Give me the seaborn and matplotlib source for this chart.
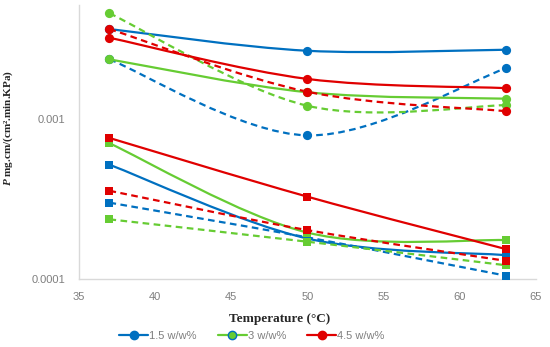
import numpy as np
import seaborn as sns
import matplotlib.pyplot as plt
from matplotlib.path import Path
from matplotlib.patches import PathPatch
from matplotlib.lines import Line2D

# temperatures (°C)
temps = [37, 50, 63]

# permeability, circle series
blue_circle_solid = [0.00365, 0.00267, 0.00271]
blue_circle_dash = [0.00236, 0.00079, 0.00207]
green_circle_solid = [0.00236, 0.00147, 0.00134]
green_circle_dash = [0.00458, 0.00121, 0.00122]
red_circle_solid = [0.00322, 0.00178, 0.00156]
red_circle_dash = [0.00365, 0.00148, 0.00112]

# permeability, square series
blue_square_solid = [0.000518, 0.000179, 0.000141]
blue_square_dash = [0.000300, 0.000182, 0.000105]
green_square_solid = [0.000705, 0.000195, 0.000175]
green_square_dash = [0.000236, 0.000171, 0.000122]
red_square_solid = [0.000761, 0.000327, 0.000154]
red_square_dash = [0.000356, 0.000202, 0.000130]

legend_labels = ["1.5 w/w%", "3 w/w%", "4.5 w/w%"]

BLUE = "#0070C0"
GREEN = "#66CC33"
RED = "#E00000"

sns.set_style("white")
plt.rcParams["font.family"] = ["Liberation Sans", "DejaVu Sans"]
plt.rcParams["mathtext.fontset"] = "custom"
plt.rcParams["mathtext.it"] = "Liberation Serif:italic:bold"
plt.rcParams["mathtext.rm"] = "Liberation Serif:bold"

fig = plt.figure(figsize=(5.5, 3.47), dpi=100)
ax = fig.add_axes([79 / 550, 1 - 279 / 347, 457 / 550, 274 / 347])


def smooth_line(x, y, color, dashed):
    # Excel-style smoothed line: cubic bezier through the points (x, log y)
    pts = np.column_stack([np.array(x, float), np.log10(y)])
    n = len(pts)
    verts = [pts[0]]
    codes = [Path.MOVETO]
    for i in range(n - 1):
        p0 = pts[max(i - 1, 0)]
        p1 = pts[i]
        p2 = pts[i + 1]
        p3 = pts[min(i + 2, n - 1)]
        c1 = p1 + (p2 - p0) / 6
        c2 = p2 - (p3 - p1) / 6
        verts += [c1, c2, p2]
        codes += [Path.CURVE4] * 3
    verts = np.array(verts)
    verts[:, 1] = 10 ** verts[:, 1]
    patch = PathPatch(Path(verts, codes), facecolor="none", edgecolor=color,
                      lw=1.6, linestyle=(0, (3, 2)) if dashed else "-",
                      capstyle="butt", zorder=2)
    ax.add_patch(patch)


series = [
    (blue_circle_solid, BLUE, False, "o"),
    (blue_circle_dash, BLUE, True, "o"),
    (green_circle_solid, GREEN, False, "o"),
    (green_circle_dash, GREEN, True, "o"),
    (red_circle_solid, RED, False, "o"),
    (red_circle_dash, RED, True, "o"),
    (blue_square_solid, BLUE, False, "s"),
    (blue_square_dash, BLUE, True, "s"),
    (green_square_solid, GREEN, False, "s"),
    (green_square_dash, GREEN, True, "s"),
    (red_square_solid, RED, False, "s"),
    (red_square_dash, RED, True, "s"),
]

for vals, col, dashed, mk in series:
    smooth_line(temps, vals, col, dashed)
    sns.scatterplot(x=temps, y=vals, color=col, marker=mk,
                    s=44 if mk == "o" else 36, linewidth=0, zorder=3, ax=ax)

ax.set_yscale("log")
ax.set_xlim(35, 65)
ax.set_ylim(1e-4, 0.00516)
ax.set_xticks([35, 40, 45, 50, 55, 60, 65])
ax.set_yticks([1e-4, 1e-3])
ax.set_yticklabels(["0.0001", "0.001"])
ax.yaxis.set_minor_locator(plt.NullLocator())
ax.tick_params(axis="both", length=0, labelsize=8, labelcolor="#7F7F7F")
ax.tick_params(axis="x", pad=9)
ax.tick_params(axis="y", pad=10)

for side in ["top", "right"]:
    ax.spines[side].set_visible(False)
for side in ["left", "bottom"]:
    ax.spines[side].set_color("#D9D9D9")
    ax.spines[side].set_linewidth(1.0)

ax.set_xlabel("Temperature (°C)", family="Liberation Serif", fontweight="bold",
              fontsize=9.5)
ax.xaxis.set_label_coords((280 - 79) / 457, -(313 - 279) / 274)
ax.set_ylabel("$\\it{P}$" + " mg.cm/(cm².min.KPa)", family="Liberation Serif",
              fontweight="bold", fontsize=8)
ax.yaxis.set_label_coords(-64 / 457, 0.55)

handles = [
    Line2D([], [], color=BLUE, lw=1.6, marker="o", markersize=6,
           markerfacecolor=BLUE, markeredgecolor=BLUE),
    Line2D([], [], color=GREEN, lw=1.6, marker="o", markersize=6,
           markerfacecolor=GREEN, markeredgecolor=BLUE),
    Line2D([], [], color=RED, lw=1.6, marker="o", markersize=6,
           markerfacecolor=RED, markeredgecolor=RED),
]
leg = fig.legend(handles, legend_labels, loc="center", ncol=3, frameon=False,
                 bbox_to_anchor=(0.458, 0.032), fontsize=8, handlelength=2.6,
                 handletextpad=0.1, columnspacing=1.9)
for t in leg.get_texts():
    t.set_color("#7F7F7F")

plt.savefig("out.png", dpi=100)
